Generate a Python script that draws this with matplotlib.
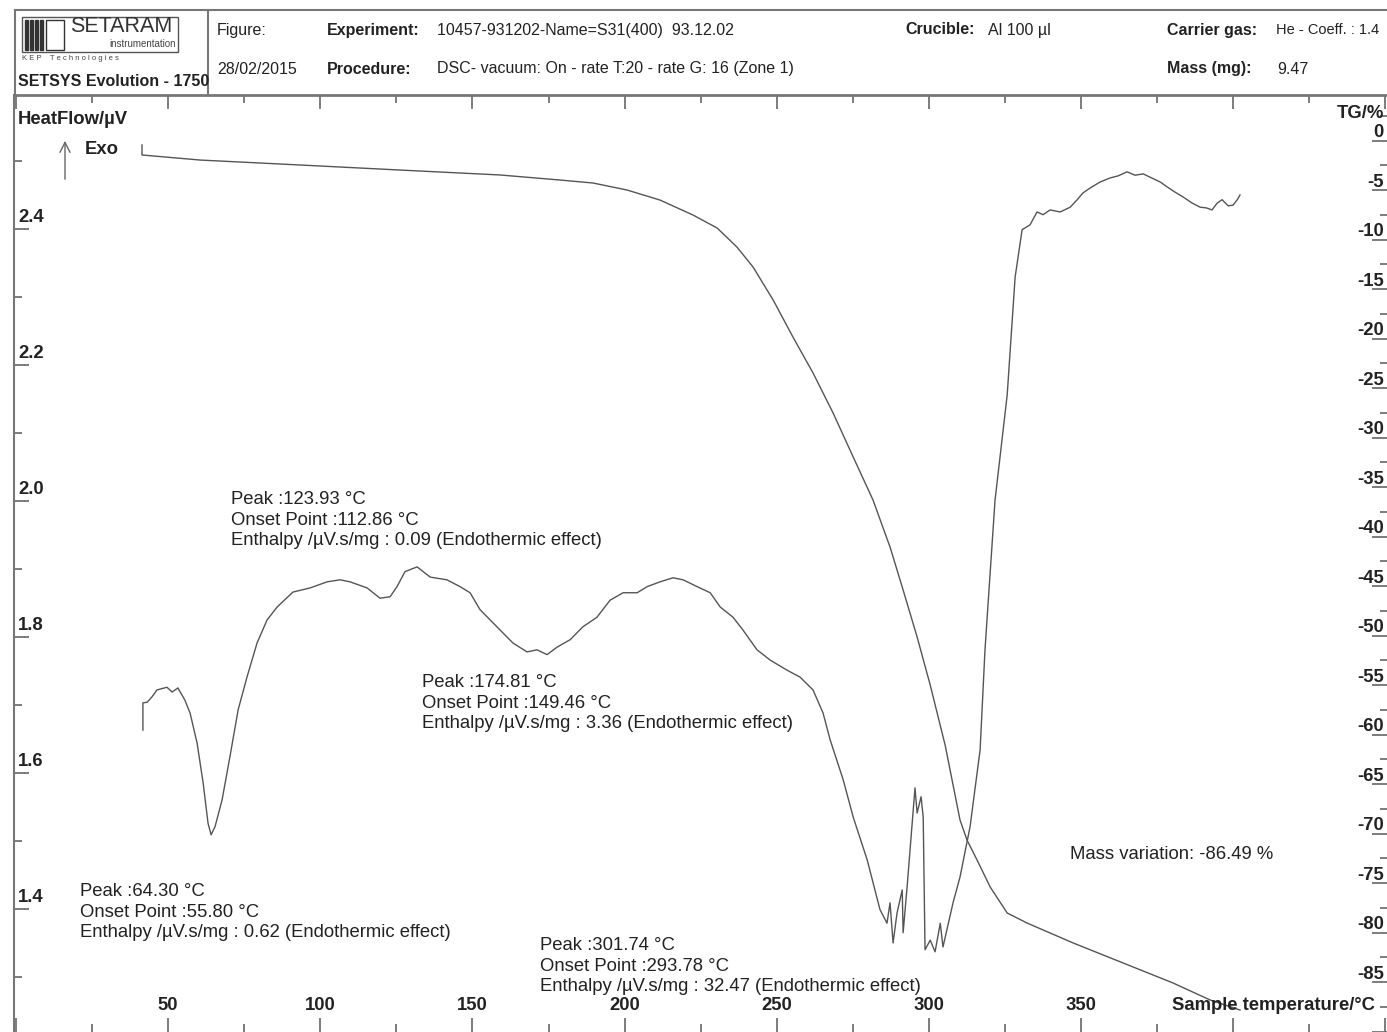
import matplotlib
matplotlib.use('Agg')
import matplotlib.pyplot as plt
from matplotlib.lines import Line2D
from matplotlib.patches import Rectangle
from matplotlib.ticker import MultipleLocator

plt.rcParams['font.family'] = ['Liberation Sans', 'DejaVu Sans']

# DSC heat flow curve (sample temperature in degC, heat flow in uV)
dsc_temp = [41.7, 41.7, 43.1, 44.7, 46.3, 49.6, 51.3, 53.2, 55.5, 57.2,
            59.5, 61.5, 63.1, 64.1, 65.4, 67.7, 70.3, 73.0, 75.9, 79.2,
            82.5, 85.8, 91.0, 96.6, 102.2, 106.5, 109.8, 115.4, 119.6, 122.9,
            125.2, 127.8, 131.8, 136.1, 141.6, 145.9, 149.2, 152.5, 155.8, 159.1,
            163.3, 167.9, 171.2, 174.5, 177.8, 182.1, 186.3, 190.9, 195.2, 199.5,
            204.1, 207.4, 211.6, 215.9, 219.2, 223.8, 228.1, 231.4, 235.6, 238.9,
            243.5, 247.8, 253.4, 257.6, 261.9, 265.2, 267.5, 271.8, 275.1, 279.7,
            283.9, 286.2, 287.2, 288.2, 289.5, 291.2, 291.5, 292.8, 295.4, 296.1,
            297.4, 298.1, 298.7, 300.4, 302.0, 303.7, 304.6, 307.9, 310.2, 313.5,
            316.8, 318.4, 321.7, 325.7, 328.3, 330.6, 333.2, 335.5, 337.5, 339.8,
            343.1, 346.4, 348.7, 350.6, 352.9, 356.2, 359.5, 362.1, 365.1, 367.7,
            370.4, 372.7, 376.0, 378.2, 380.9, 383.5, 386.5, 389.1, 391.1, 393.0,
            394.7, 396.3, 398.3, 399.9, 401.3, 402.2]
dsc_heatflow = [1.663, 1.703, 1.704, 1.712, 1.722, 1.726, 1.719, 1.725, 1.707, 1.688,
                1.644, 1.585, 1.526, 1.509, 1.521, 1.560, 1.624, 1.693, 1.741, 1.791,
                1.825, 1.844, 1.866, 1.872, 1.881, 1.884, 1.881, 1.872, 1.857, 1.859,
                1.874, 1.896, 1.903, 1.888, 1.884, 1.874, 1.865, 1.840, 1.825, 1.810,
                1.791, 1.778, 1.781, 1.774, 1.785, 1.796, 1.815, 1.829, 1.854, 1.865,
                1.865, 1.874, 1.881, 1.887, 1.884, 1.874, 1.865, 1.844, 1.829, 1.810,
                1.781, 1.766, 1.751, 1.741, 1.722, 1.688, 1.649, 1.590, 1.535, 1.472,
                1.399, 1.379, 1.409, 1.350, 1.394, 1.428, 1.365, 1.432, 1.578, 1.541,
                1.565, 1.535, 1.340, 1.354, 1.337, 1.379, 1.344, 1.409, 1.447, 1.521,
                1.634, 1.781, 2.001, 2.156, 2.329, 2.399, 2.406, 2.425, 2.421, 2.428,
                2.425, 2.432, 2.443, 2.453, 2.460, 2.469, 2.475, 2.478, 2.484, 2.479,
                2.481, 2.476, 2.469, 2.462, 2.454, 2.447, 2.438, 2.432, 2.431, 2.428,
                2.438, 2.443, 2.434, 2.435, 2.443, 2.450]

# TG mass curve (%)
tg_temp = [41.4, 41.4, 60.5, 93.3, 126.2, 159.1, 178.8, 189.6, 200.8, 211.6,
           222.5, 230.4, 236.9, 242.2, 248.8, 255.3, 261.9, 268.5, 275.1, 281.6,
           287.2, 291.5, 296.1, 300.4, 305.3, 310.2, 312.5, 315.8, 320.1, 325.7,
           332.2, 347.4, 363.8, 380.2, 392.4, 402.2]
tg_mass = [-0.45, -1.46, -1.97, -2.47, -2.98, -3.48, -3.99, -4.29, -5.00, -6.01,
           -7.53, -8.84, -10.76, -12.78, -16.11, -19.85, -23.48, -27.53, -31.97, -36.31,
           -41.06, -45.40, -50.15, -55.00, -61.06, -68.64, -70.66, -72.68, -75.40, -78.03,
           -79.04, -81.06, -83.08, -85.10, -86.82, -87.83]

temp_ticks = [50, 100, 150, 200, 250, 300, 350]
hf_ticks = [2.4, 2.2, 2.0, 1.8, 1.6, 1.4]
tg_ticks = [0, -5, -10, -15, -20, -25, -30, -35, -40, -45, -50, -55, -60,
            -65, -70, -75, -80, -85]

# peak annotations: (temperature, heat flow of first line, lines)
annotations = [
    (70.6, 2.0015, ['Peak :123.93 °C', 'Onset Point :112.86 °C',
                    'Enthalpy /µV.s/mg : 0.09 (Endothermic effect)']),
    (133.4, 1.7324, ['Peak :174.81 °C', 'Onset Point :149.46 °C',
                     'Enthalpy /µV.s/mg : 3.36 (Endothermic effect)']),
    (21.0, 1.425, ['Peak :64.30 °C', 'Onset Point :55.80 °C',
                   'Enthalpy /µV.s/mg : 0.62 (Endothermic effect)']),
    (172.2, 1.3456, ['Peak :301.74 °C', 'Onset Point :293.78 °C',
                     'Enthalpy /µV.s/mg : 32.47 (Endothermic effect)']),
]

W, H = 1387, 1032
TXT = '#222222'
GRID = '#666666'
LINE = '#555555'
FS = 13.3      # annotation / label size
HFS = 11.5     # header size


def fx(x):
    return x / W


def fy(y):
    return 1 - y / H


fig = plt.figure(figsize=(W / 100, H / 100), dpi=100)
ax = fig.add_axes([fx(14), 0, 1 - fx(14), fy(95)])
ax2 = ax.twinx()

ax.plot(dsc_temp, dsc_heatflow, color=LINE, lw=1.0)
ax2.plot(tg_temp, tg_mass, color=LINE, lw=1.0)

ax.set_xlim(-0.66, 450.5)
ax.set_ylim(1.219, 2.597)
ax2.set_ylim(-90.05, 4.6)

for s in ['right', 'bottom']:
    ax.spines[s].set_visible(False)
for s in ax2.spines.values():
    s.set_visible(False)
ax.spines['left'].set_color('#777777')
ax.spines['left'].set_linewidth(1.5)
ax.spines['top'].set_color('#777777')
ax.spines['top'].set_linewidth(2)

ax.xaxis.set_major_locator(MultipleLocator(50))
ax.xaxis.set_minor_locator(MultipleLocator(25))
ax.yaxis.set_major_locator(MultipleLocator(0.2))
ax.yaxis.set_minor_locator(MultipleLocator(0.1))
ax2.yaxis.set_major_locator(MultipleLocator(5))
ax2.yaxis.set_minor_locator(MultipleLocator(2.5))

ax.tick_params(axis='x', which='both', top=True, bottom=True, direction='in',
               labelbottom=False, labeltop=False, color=GRID, width=1.2)
ax.tick_params(axis='x', which='major', length=10)
ax.tick_params(axis='x', which='minor', length=6)
ax.tick_params(axis='y', which='both', direction='in', labelleft=False,
               color=GRID, width=1.2)
ax.tick_params(axis='y', which='major', length=11)
ax.tick_params(axis='y', which='minor', length=6)
ax2.tick_params(axis='y', which='both', direction='in', labelright=False,
                color=GRID, width=1.2)
ax2.tick_params(axis='y', which='major', length=11)
ax2.tick_params(axis='y', which='minor', length=5)

# tick labels drawn inside the frame, sitting on their ticks
for v in temp_ticks:
    ax.annotate(str(v), xy=(v, 0), xycoords=('data', 'axes fraction'),
                xytext=(0, 27), textcoords='offset pixels', ha='center',
                va='center', fontsize=FS, fontweight='bold', color=TXT)
for v in hf_ticks:
    ax.annotate(f'{v:.1f}', xy=(0, v), xycoords=('axes fraction', 'data'),
                xytext=(4, 11), textcoords='offset pixels', ha='left',
                va='center', fontsize=FS, fontweight='bold', color=TXT)
for v in tg_ticks:
    ax2.annotate(str(v), xy=(1, v), xycoords=('axes fraction', 'data'),
                 xytext=(-3, 8), textcoords='offset pixels', ha='right',
                 va='center', fontsize=FS, fontweight='bold', color=TXT)

fig.text(fx(18), fy(120), 'HeatFlow/µV', fontsize=FS, fontweight='bold',
         color=TXT, va='center')
fig.text(fx(1384), fy(114), 'TG/%', fontsize=FS, fontweight='bold',
         color=TXT, va='center', ha='right')
fig.text(fx(1375), fy(1005), 'Sample temperature/°C', fontsize=FS,
         fontweight='bold', color=TXT, va='center', ha='right')
fig.text(fx(85), fy(150), 'Exo', fontsize=FS, fontweight='bold',
         color=TXT, va='center')
ax.annotate('', xy=(65, H - 138), xycoords='figure pixels',
            xytext=(65, H - 182), textcoords='figure pixels',
            arrowprops=dict(arrowstyle='->', color=GRID, lw=1.0,
                            mutation_scale=18))

for t, hf, lines in annotations:
    for i, line in enumerate(lines):
        ax.annotate(line, xy=(t, hf), xycoords='data',
                    xytext=(0, -20.5 * i), textcoords='offset pixels',
                    ha='left', va='center', fontsize=FS, color=TXT)
ax.text(346.4, 1.4794, 'Mass variation: -86.49 %', ha='left', va='center',
        fontsize=FS, color=TXT)

# header block
hdr = dict(color='#777777', lw=1.5)
fig.add_artist(Line2D([fx(15), 1], [fy(10), fy(10)], **hdr))
fig.add_artist(Line2D([fx(15), fx(15)], [fy(10), fy(95)], **hdr))
fig.add_artist(Line2D([fx(208), fx(208)], [fy(10), fy(95)], **hdr))

# logo
fig.add_artist(Rectangle((fx(22), fy(52)), fx(156), 35 / H, fill=False,
                         ec='#555555', lw=1.0))
for bx in [25, 30, 35, 40]:
    fig.add_artist(Rectangle((fx(bx), fy(50)), fx(3), 30 / H, color='#333333'))
fig.add_artist(Rectangle((fx(46), fy(50)), fx(18), 30 / H, fill=False,
                         ec='#333333', lw=1.0))
fig.text(fx(70), fy(27), 'SETARAM', fontsize=15.5, color='#333333',
         va='center')
fig.text(fx(176), fy(44), 'instrumentation', fontsize=7, color='#444444',
         va='center', ha='right')
fig.text(fx(22), fy(59), 'K E P    T e c h n o l o g i e s', fontsize=5.5,
         color='#444444', va='center')
fig.text(fx(18), fy(81), 'SETSYS Evolution - 1750', fontsize=11.5,
         fontweight='bold', color=TXT, va='center')

head = [
    (217, 30, 'Figure:', 'normal', HFS),
    (217, 69, '28/02/2015', 'normal', HFS),
    (327, 30, 'Experiment:', 'bold', HFS),
    (437, 30, '10457-931202-Name=S31(400)  93.12.02', 'normal', HFS),
    (327, 69, 'Procedure:', 'bold', HFS),
    (437, 69, 'DSC- vacuum: On - rate T:20 - rate G: 16 (Zone 1)', 'normal', HFS),
    (905, 30, 'Crucible:', 'bold', HFS),
    (988, 30, 'Al 100 µl', 'normal', HFS),
    (1167, 30, 'Carrier gas:', 'bold', HFS),
    (1276, 30, 'He - Coeff. : 1.4', 'normal', 10.5),
    (1167, 69, 'Mass (mg):', 'bold', HFS),
    (1277, 69, '9.47', 'normal', HFS),
]
for x, y, s, w, size in head:
    fig.text(fx(x), fy(y), s, fontsize=size, fontweight=w, color=TXT,
             va='center')

fig.savefig('out.png', dpi=100, facecolor='white')
